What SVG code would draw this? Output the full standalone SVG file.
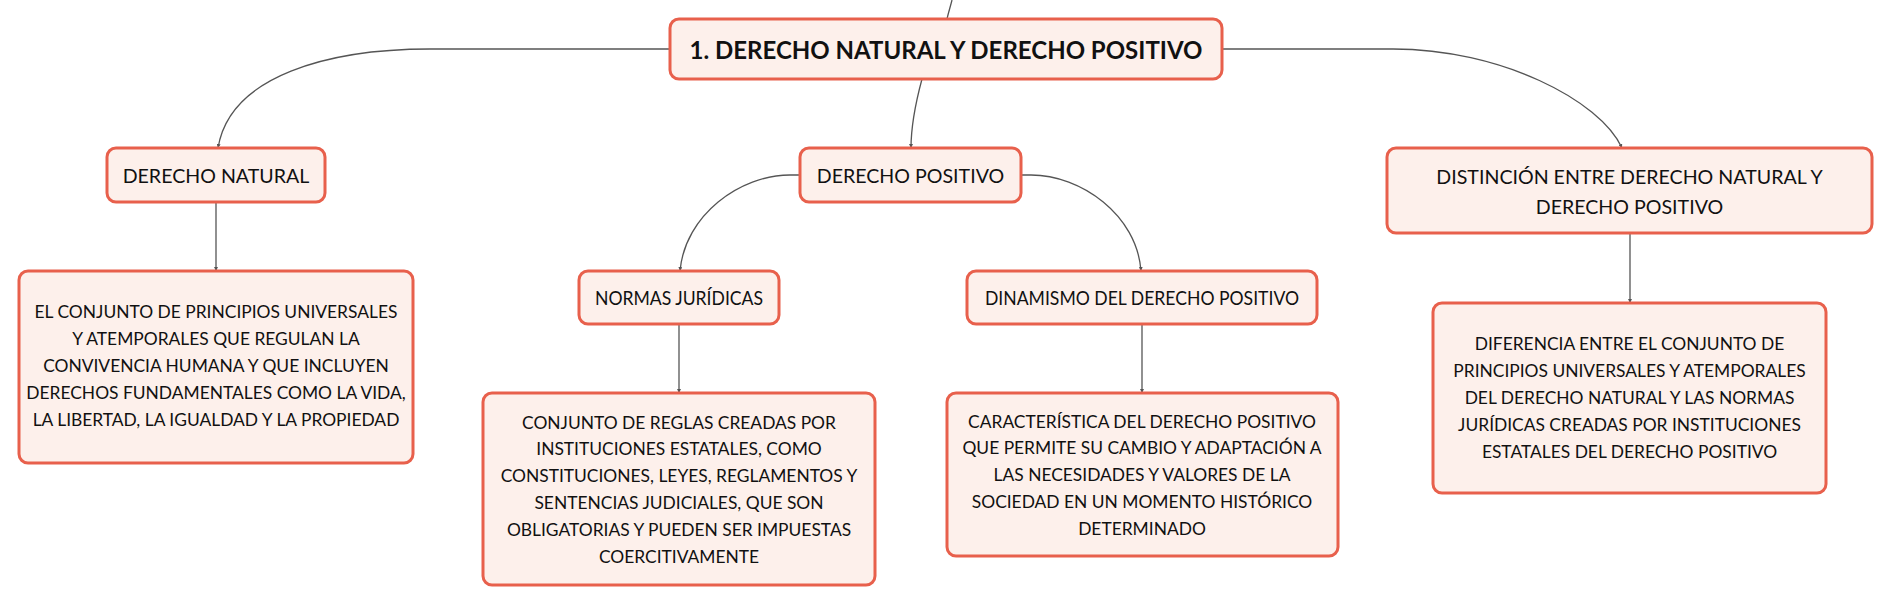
<svg xmlns="http://www.w3.org/2000/svg" width="1893" height="605" viewBox="0 0 1893 605">
<defs>
<style>
.box{fill:#fdf0eb;stroke:#e8604c;stroke-width:3}
.t{font-family:Lato,"Open Sans","Liberation Sans",sans-serif;fill:#111;text-anchor:middle;dominant-baseline:central}
.n{font-size:19.6px}
.d{font-size:17.4px}
.r{font-size:24px;font-weight:bold}
.c{fill:none;stroke:#555;stroke-width:1.3}
</style>
<marker id="ah" viewBox="0 0 6 6" refX="6" refY="3" markerWidth="4" markerHeight="4" orient="auto" markerUnits="userSpaceOnUse">
<path d="M0,0 L6,3 L0,6 z" fill="#555"/>
</marker>
</defs>
<rect width="1893" height="605" fill="#fff"/>
<g id="connectors">
<path class="c" d="M952,0 C950,8 948,14 947,19"/>
<path class="c" d="M670,49 H430 C330,49 230,75 218,148" marker-end="url(#ah)"/>
<path class="c" d="M1222,49 H1393 C1500,49 1600,100 1622,148" marker-end="url(#ah)"/>
<path class="c" d="M922,79 C915,105 911,125 911,148" marker-end="url(#ah)"/>
<path class="c" d="M800,175 H790 C740,175 685,215 680,271" marker-end="url(#ah)"/>
<path class="c" d="M1021,175 H1031 C1081,175 1137,215 1141,271" marker-end="url(#ah)"/>
<path class="c" d="M216,202 V271" marker-end="url(#ah)"/>
<path class="c" d="M679,324 V393" marker-end="url(#ah)"/>
<path class="c" d="M1142,324 V393" marker-end="url(#ah)"/>
<path class="c" d="M1630,233 V303" marker-end="url(#ah)"/>
</g>
<g id="root">
<rect class="box" x="670" y="19" width="552" height="60" rx="9"/>
<text class="t r" x="946" y="49">1. DERECHO NATURAL Y DERECHO POSITIVO</text>
</g>
<g id="derecho-natural">
<rect class="box" x="107" y="148" width="218" height="54" rx="9"/>
<text class="t n" x="216" y="175">DERECHO NATURAL</text>
</g>
<g id="derecho-positivo">
<rect class="box" x="800" y="148" width="221" height="54" rx="9"/>
<text class="t n" x="910.5" y="175">DERECHO POSITIVO</text>
</g>
<g id="distincion">
<rect class="box" x="1387" y="148" width="485" height="85" rx="9"/>
<text class="t n" x="1629.5" y="176">DISTINCIÓN ENTRE DERECHO NATURAL Y</text>
<text class="t n" x="1629.5" y="206">DERECHO POSITIVO</text>
</g>
<g id="normas">
<rect class="box" x="579" y="271" width="200" height="53" rx="9"/>
<text class="t n" x="679" y="297.5" textLength="168" lengthAdjust="spacingAndGlyphs">NORMAS JURÍDICAS</text>
</g>
<g id="dinamismo">
<rect class="box" x="967" y="271" width="350" height="53" rx="9"/>
<text class="t n" x="1142" y="297.5" textLength="314" lengthAdjust="spacingAndGlyphs">DINAMISMO DEL DERECHO POSITIVO</text>
</g>
<g id="desc-natural">
<rect class="box" x="19" y="271" width="394" height="192" rx="9"/>
<text class="t d" x="216" y="311.5">EL CONJUNTO DE PRINCIPIOS UNIVERSALES</text>
<text class="t d" x="216" y="338.5">Y ATEMPORALES QUE REGULAN LA</text>
<text class="t d" x="216" y="365.5">CONVIVENCIA HUMANA Y QUE INCLUYEN</text>
<text class="t d" x="216" y="392.5">DERECHOS FUNDAMENTALES COMO LA VIDA,</text>
<text class="t d" x="216" y="419.5">LA LIBERTAD, LA IGUALDAD Y LA PROPIEDAD</text>
</g>
<g id="desc-normas">
<rect class="box" x="483" y="393" width="392" height="192" rx="9"/>
<text class="t d" x="679" y="422">CONJUNTO DE REGLAS CREADAS POR</text>
<text class="t d" x="679" y="448.8">INSTITUCIONES ESTATALES, COMO</text>
<text class="t d" x="679" y="475.6">CONSTITUCIONES, LEYES, REGLAMENTOS Y</text>
<text class="t d" x="679" y="502.4">SENTENCIAS JUDICIALES, QUE SON</text>
<text class="t d" x="679" y="529.2">OBLIGATORIAS Y PUEDEN SER IMPUESTAS</text>
<text class="t d" x="679" y="556">COERCITIVAMENTE</text>
</g>
<g id="desc-dinamismo">
<rect class="box" x="947" y="393" width="391" height="163" rx="9"/>
<text class="t d" x="1142" y="421">CARACTERÍSTICA DEL DERECHO POSITIVO</text>
<text class="t d" x="1142" y="447.9">QUE PERMITE SU CAMBIO Y ADAPTACIÓN A</text>
<text class="t d" x="1142" y="474.8">LAS NECESIDADES Y VALORES DE LA</text>
<text class="t d" x="1142" y="501.7">SOCIEDAD EN UN MOMENTO HISTÓRICO</text>
<text class="t d" x="1142" y="528.6">DETERMINADO</text>
</g>
<g id="desc-distincion">
<rect class="box" x="1433" y="303" width="393" height="190" rx="9"/>
<text class="t d" x="1629.5" y="343.5">DIFERENCIA ENTRE EL CONJUNTO DE</text>
<text class="t d" x="1629.5" y="370.5">PRINCIPIOS UNIVERSALES Y ATEMPORALES</text>
<text class="t d" x="1629.5" y="397.5">DEL DERECHO NATURAL Y LAS NORMAS</text>
<text class="t d" x="1629.5" y="424.5">JURÍDICAS CREADAS POR INSTITUCIONES</text>
<text class="t d" x="1629.5" y="451.5">ESTATALES DEL DERECHO POSITIVO</text>
</g>
</svg>
